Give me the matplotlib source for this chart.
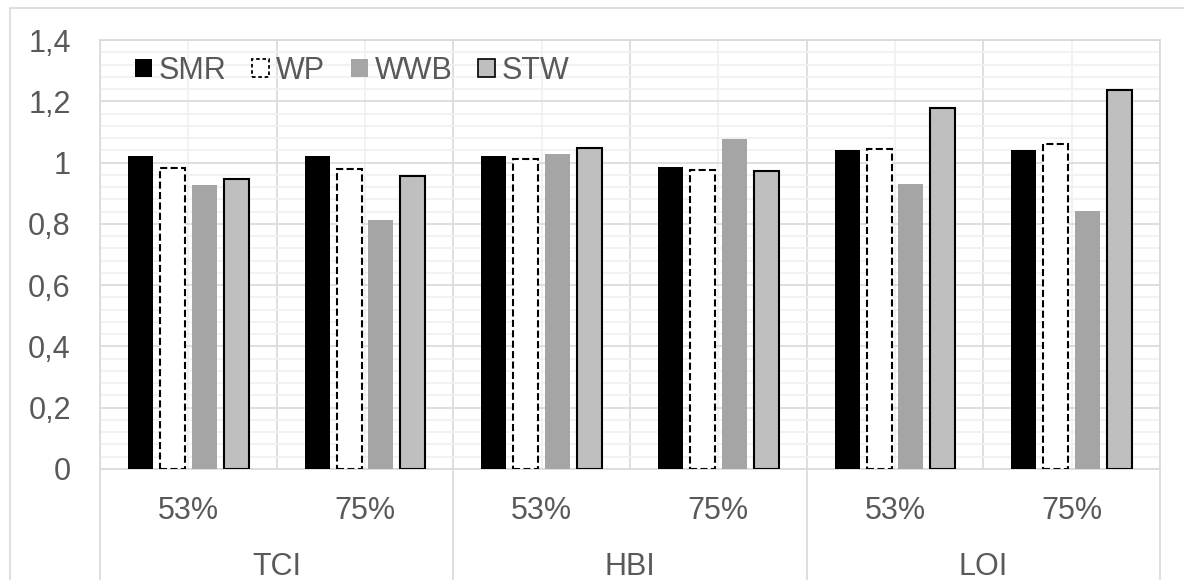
import matplotlib
matplotlib.use('Agg')
import matplotlib.pyplot as plt
import matplotlib.transforms as mtransforms
from matplotlib.patches import Patch, Rectangle
from matplotlib.lines import Line2D
import numpy as np

groups = ['TCI', 'HBI', 'LOI']
levels = ['53%', '75%', '53%', '75%', '53%', '75%']
series = ['SMR', 'WP', 'WWB', 'STW']
smr = [1.02, 1.02, 1.02, 0.985, 1.04, 1.04]
wp = [0.983, 0.979, 1.012, 0.976, 1.043, 1.06]
wwb = [0.926, 0.813, 1.027, 1.076, 0.929, 0.843]
stw = [0.946, 0.955, 1.046, 0.974, 1.178, 1.238]
ytick_vals = [0, 0.2, 0.4, 0.6, 0.8, 1.0, 1.2, 1.4]
ytick_labels = ['0', '0,2', '0,4', '0,6', '0,8', '1', '1,2', '1,4']

plt.rcParams['font.family'] = ['Liberation Sans', 'DejaVu Sans']
TXT = '#595959'
GRID = '#D9D9D9'
MINOR = '#F0F0F0'

W, H = 1184, 580
fig = plt.figure(figsize=(W / 100, H / 100), dpi=100)
fig.patches.append(Rectangle((10 / W, -0.01), 1.05, (H - 8) / H + 0.01, transform=fig.transFigure,
                             fill=False, edgecolor=GRID, linewidth=1.2))
ax = fig.add_axes([100 / W, 111 / H, 1060 / W, 429 / H])

x = np.arange(len(levels))
step = 32 / 177
width = 25 / 177
offs = [-1.5 * step, -0.5 * step, 0.5 * step, 1.5 * step]

ax.bar(x + offs[0], smr, width, color='black', zorder=3)
ax.bar(x + offs[1], wp, width, facecolor='white', edgecolor='black',
       linestyle=(0, (3.4, 1.6)), linewidth=1.5, zorder=3)
ax.bar(x + offs[2], wwb, width, color='#A5A5A5', zorder=3)
ax.bar(x + offs[3], stw, width, facecolor='#BFBFBF', edgecolor='black', linewidth=1.5, zorder=3)

ax.set_xlim(-0.5, len(levels) - 0.5)
ax.set_ylim(0, 1.4)
ax.set_yticks(ytick_vals)
ax.set_yticklabels(ytick_labels)
ax.set_yticks(np.arange(0, 1.4001, 0.04), minor=True)
ax.set_xticks(np.arange(-0.5, len(levels), 1.0))
ax.set_xticks(x, minor=True)
ax.set_xticklabels([])
ax.tick_params(axis='both', which='both', length=0)
ax.tick_params(axis='y', labelsize=22, labelcolor=TXT, pad=21)
ax.grid(which='minor', color=MINOR, linewidth=1.2, zorder=0)
ax.grid(which='major', color=GRID, linewidth=1.2, zorder=0)
ax.set_axisbelow(True)
for s in ax.spines.values():
    s.set_color(GRID)
    s.set_linewidth(1.2)

trans = mtransforms.blended_transform_factory(ax.transData, ax.transAxes)
for xi, lab in zip(x, levels):
    ax.text(xi, -0.1168, lab, transform=trans, ha='center', va='baseline', fontsize=22, color=TXT)
for gi, g in enumerate(groups):
    ax.text(2 * gi + 0.5, -0.2477, g, transform=trans, ha='center', va='baseline', fontsize=22, color=TXT)
for b in [-0.5, 1.5, 3.5, 5.5]:
    ax.add_line(Line2D([b, b], [0, -0.3], transform=trans, clip_on=False, color=GRID, linewidth=1.2))

handles = [Patch(facecolor='black'),
           Patch(facecolor='white', edgecolor='black', linestyle=(0, (2, 1.5)), linewidth=1.3),
           Patch(facecolor='#A5A5A5'),
           Patch(facecolor='#BFBFBF', edgecolor='black', linewidth=1.2)]
leg = ax.legend(handles, series, ncol=4, loc='upper left', bbox_to_anchor=(0.033, 0.963),
                frameon=False, fontsize=22, handlelength=0.55, handleheight=0.52,
                handletextpad=0.23, columnspacing=0.84, borderaxespad=0, borderpad=0)
for t in leg.get_texts():
    t.set_color(TXT)

fig.savefig('out.png', dpi=100)
